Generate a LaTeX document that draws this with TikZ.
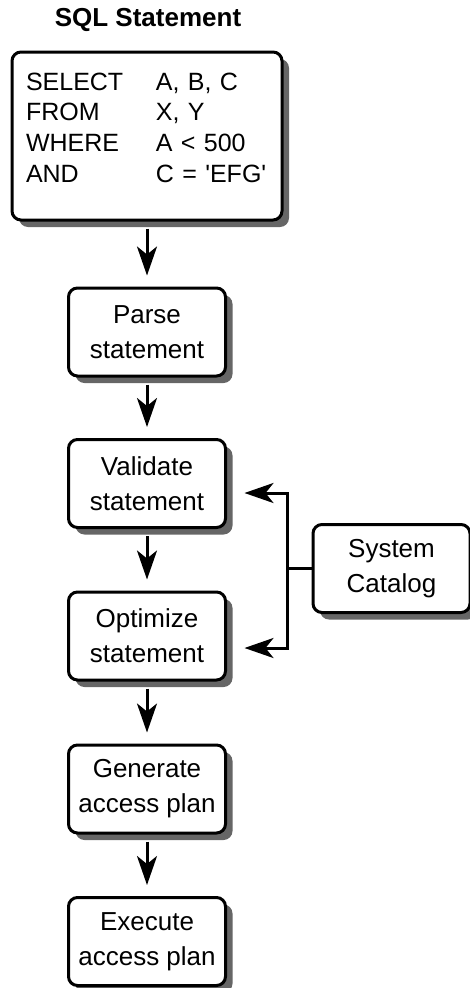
\documentclass[tikz,border=0pt]{standalone}
\usepackage{fontspec}
\setmainfont{Liberation Sans}
\usetikzlibrary{arrows.meta,shadows}

\begin{document}
\begin{tikzpicture}[x=1pt,y=-1pt,
  stepbox/.style={draw,line width=3pt,rounded corners=9pt,fill=white,
    minimum width=157pt,minimum height=88pt,inner sep=0pt,align=center,
    font=\fontsize{26}{35}\selectfont,
    drop shadow={shadow xshift=7pt,shadow yshift=-7pt,fill=black!60,opacity=1}},
  flow/.style={-{Stealth[length=29pt,width=20pt,inset=8pt]},line width=3pt,
    shorten <=7pt,shorten >=11pt}]
  \useasboundingbox (0,0) rectangle (470,988);
  \node[font=\bfseries\fontsize{26}{30}\selectfont] (title) at (148,20) {SQL Statement};
  \node[stepbox,minimum width=270pt,minimum height=168pt,text width=242pt,align=left,
    font=\fontsize{25}{30.7}\selectfont] (sql) at (147,136)
    {\begin{tabular}{@{}p{130pt}@{}l@{}}
      SELECT & A, B, C\\
      FROM & X, Y\\
      WHERE & A < 500\\
      AND & C = \textquotesingle EFG\textquotesingle\\[12pt]
    \end{tabular}};
  \node[stepbox] (parse) at (147,332) {Parse\\statement};
  \node[stepbox] (validate) at (147,483.5) {Validate\\statement};
  \node[stepbox] (optimize) at (147,636) {Optimize\\statement};
  \node[stepbox] (generate) at (147,789) {Generate\\access plan};
  \node[stepbox] (execute) at (147,941.5) {Execute\\access plan};
  \node[stepbox] (catalog) at (391.5,568.5) {System\\Catalog};
  \coordinate (cj) at (287,568.5);
  \draw[flow] (sql) -- (parse);
  \draw[flow] (parse) -- (validate);
  \draw[flow] (validate) -- (optimize);
  \draw[flow] (optimize) -- (generate);
  \draw[flow] (generate) -- (execute);
  \draw[line width=3pt] (catalog) -- (cj);
  \draw[flow,shorten <=0pt,shorten >=17.5pt] (cj) |- ([yshift=-9.5pt]validate.east);
  \draw[flow,shorten <=0pt,shorten >=17.5pt] (cj) |- ([yshift=-12pt]optimize.east);
\end{tikzpicture}
\end{document}
